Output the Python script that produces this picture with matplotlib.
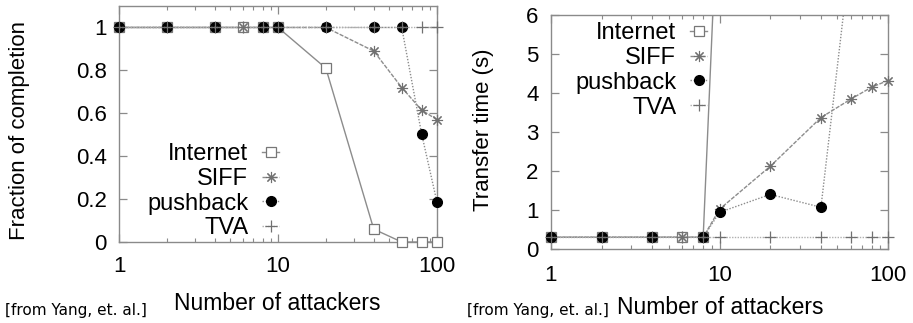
import matplotlib
matplotlib.use("Agg")
import matplotlib.pyplot as plt
from matplotlib.ticker import LogLocator, NullFormatter, FixedLocator
from matplotlib.transforms import Bbox, TransformedBbox

# ---- data ----
attackers = [1, 2, 4, 6, 8, 10, 20, 40, 60, 80, 100]
pushback_attackers = [1, 2, 4, 8, 10, 20, 40, 60, 80, 100]

internet_frac = [1, 1, 1, 1, 1, 1, 0.81, 0.06, 0, 0, 0]
siff_frac = [1, 1, 1, 1, 1, 1, 1, 0.89, 0.72, 0.615, 0.57]
pushback_frac = [1, 1, 1, 1, 1, 1, 1, 1, 0.505, 0.185]
tva_frac = [1, 1, 1, 1, 1, 1, 1, 1, 1, 1, 1]

internet_time_x = [1, 2, 4, 6, 8, 10]
internet_time = [0.3, 0.3, 0.3, 0.3, 0.3, 10.0]
siff_time = [0.3, 0.3, 0.3, 0.3, 0.3, 1.02, 2.12, 3.37, 3.84, 4.15, 4.32]
pushback_time_x = [1, 2, 4, 8, 10, 20, 40, 60]
pushback_time = [0.3, 0.3, 0.3, 0.3, 0.94, 1.40, 1.07, 7.6]
tva_time = [0.3] * 11

series_names = ["Internet", "SIFF", "pushback", "TVA"]
yticks_left = [0, 0.2, 0.4, 0.6, 0.8, 1]
yticklabels_left = ["0", "0.2", "0.4", "0.6", "0.8", "1"]
yticks_right = [0, 1, 2, 3, 4, 5, 6]
xticks = [1, 10, 100]
xticklabels = ["1", "10", "100"]

plt.rcParams['font.family'] = ['Liberation Sans', 'DejaVu Sans']

W, H = 913, 323
fig = plt.figure(figsize=(W / 100, H / 100), dpi=100)

frame_col = "#8a8a8a"
gray = "#8c8c8c"


def box(l, t, r, b):
    return [l / W, 1 - b / H, (r - l) / W, (b - t) / H]


def style(ax, ylim, yt, ytl, xpad):
    ax.set_xscale("log")
    ax.set_xlim(1, 100)
    ax.set_ylim(*ylim)
    ax.xaxis.set_major_locator(FixedLocator(xticks))
    ax.set_xticklabels(xticklabels)
    ax.xaxis.set_minor_locator(LogLocator(base=10, subs=range(2, 10)))
    ax.xaxis.set_minor_formatter(NullFormatter())
    ax.set_yticks(yt)
    ax.set_yticklabels(ytl)
    ax.tick_params(which="both", direction="in", top=True, right=True,
                   color=frame_col, labelsize=16)
    ax.tick_params(which="major", length=6, width=0.9)
    ax.tick_params(which="minor", length=3, width=0.8)
    ax.tick_params(axis="x", pad=xpad)
    ax.tick_params(axis="y", pad=9)
    for s in ax.spines.values():
        s.set_color(frame_col)
        s.set_linewidth(1.0)


def draw(ax, xi, yi, xs, ys, xp, yp, xt, yt):
    lines = []
    lines += ax.plot(xi, yi, color=gray, lw=1.0, ls="-", marker="s", ms=7,
                     mfc="white", mec="#777777", mew=0.9,
                     label=series_names[0], zorder=3)
    lines += ax.plot(xs, ys, color=gray, lw=1.0, ls=(0, (3, 1)),
                     marker=(8, 2, 0), ms=8, mec="#707070", mew=0.8,
                     label=series_names[1], zorder=4)
    lines += ax.plot(xp, yp, color=gray, lw=1.0, ls=(0, (1, 1.2)), marker="o",
                     ms=7, mfc="black", mec="black",
                     label=series_names[2], zorder=5)
    lines += ax.plot(xt, yt, color="#b0b0b0", lw=1.0, ls=(0, (1, 1)),
                     marker="+", ms=9, mec="#707070", mew=0.9,
                     label=series_names[3], zorder=6)
    clip = TransformedBbox(Bbox([[-0.06, -0.1], [1.06, 1.0]]), ax.transAxes)
    for ln in lines:
        ln.set_clip_box(clip)


leg_kw = dict(loc="upper right", bbox_transform=fig.transFigure,
              frameon=False, markerfirst=False, fontsize=17,
              handlelength=0.7, handletextpad=0.6, labelspacing=0.12,
              borderpad=0, borderaxespad=0)

# ---- left panel ----
ax1 = fig.add_axes(box(119, 6, 437, 242))
draw(ax1, attackers, internet_frac, attackers, siff_frac,
     pushback_attackers, pushback_frac, attackers, tva_frac)
style(ax1, (0, 1.1), yticks_left, yticklabels_left, 10)
ax1.legend(bbox_to_anchor=(279 / W, 1 - 143 / H), **leg_kw)

# ---- right panel ----
ax2 = fig.add_axes(box(551, 15, 888, 249))
draw(ax2, internet_time_x, internet_time, attackers, siff_time,
     pushback_time_x, pushback_time, attackers, tva_time)
style(ax2, (0, 6), yticks_right, [str(v) for v in yticks_right], 11.5)
ax2.legend(bbox_to_anchor=(707 / W, 1 - 22 / H), **leg_kw)

# ---- labels ----
fig.text(20 / W, 1 - 130 / H, "Fraction of completion", rotation=90,
         ha="center", va="center", fontsize=16)
fig.text(483 / W, 1 - 130 / H, "Transfer time (s)", rotation=90,
         ha="center", va="center", fontsize=16)
fig.text(277 / W, 1 - 303 / H, "Number of attackers", ha="center",
         va="center", fontsize=16.5)
fig.text(720 / W, 1 - 307 / H, "Number of attackers", ha="center",
         va="center", fontsize=16.5)
fig.text(5 / W, 1 - 310 / H, "[from Yang, et. al.]", ha="left", va="center",
         fontsize=11, family="DejaVu Sans")
fig.text(467 / W, 1 - 310 / H, "[from Yang, et. al.]", ha="left", va="center",
         fontsize=11, family="DejaVu Sans")

fig.savefig("out.png", dpi=100)
